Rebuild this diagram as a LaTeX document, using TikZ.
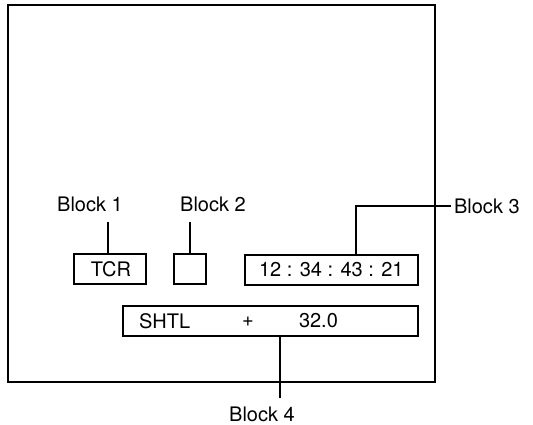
\documentclass[tikz,border=0pt]{standalone}
\usepackage{fontspec}
\setmainfont{TeX Gyre Heros}
\usetikzlibrary{calc}

\begin{document}
\begin{tikzpicture}[x=.5pt,y=-.5pt,line width=1pt,
  box/.style={draw,line width=1pt,inner sep=0pt,minimum height=15pt},
  txt/.style={font=\fontsize{10}{12}\selectfont,inner sep=1pt}]
\useasboundingbox (0,0) rectangle (533,424);
\node[draw,inner sep=0pt,minimum width=213.75pt,minimum height=188.5pt] (screen) at (221.25,193.5) {};
\node[box,minimum width=36pt] (tcr) at (110,269) {};
\node[box,minimum width=16pt] (blank) at (190,269) {};
\node[box,minimum width=86.5pt] (clock) at (331.5,269.5) {};
\node[box,minimum width=147.5pt] (shtl) at (270.5,321) {};
\node[txt] (tcrtxt) at (111,269) {TCR};
\node[txt,anchor=west] (clocktxt) at (256,270) {12 : 34 : 43 : 21};
\node[txt,anchor=west] (mode) at (136,321) {SHTL};
\node[txt] (sign) at (248,322) {+};
\node[txt,anchor=west] (speed) at (296,321) {32.0};
\node[txt] (lb1) at (90,204) {Block 1};
\node[txt] (lb2) at (213,204) {Block 2};
\node[txt,anchor=west] (lb3) at (451,206) {Block 3};
\node[txt] (lb4) at (262,414) {Block 4};
\coordinate (t1) at (108,222);
\coordinate (t2) at (190,222);
\coordinate (t3) at (356,206);
\coordinate (t4) at (280,398);
\draw (t1) -- (t1 |- tcr.north);
\draw (t2) -- (t2 |- blank.north);
\draw (t3 |- clock.north) -- (t3) -- (lb3.west);
\draw (t4) -- (t4 |- shtl.south);
\end{tikzpicture}
\end{document}
